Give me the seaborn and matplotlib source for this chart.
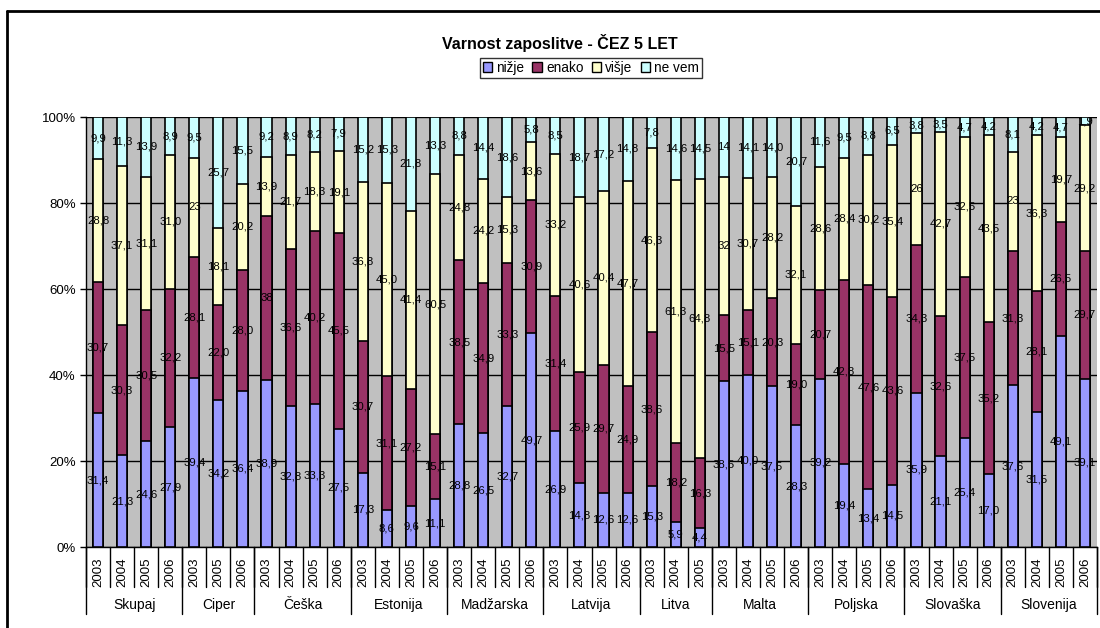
import pandas as pd
import seaborn as sns
import matplotlib.pyplot as plt
import matplotlib.patches as mpatches
import matplotlib.transforms as mtrans
from matplotlib.lines import Line2D

skupine = ["Skupaj", "Ciper", "Češka", "Estonija", "Madžarska", "Latvija",
           "Litva", "Malta", "Poljska", "Slovaška", "Slovenija"]
leta = [["2003", "2004", "2005", "2006"],
        ["2003", "2005", "2006"],
        ["2003", "2004", "2005", "2006"],
        ["2003", "2004", "2005", "2006"],
        ["2003", "2004", "2005", "2006"],
        ["2003", "2004", "2005", "2006"],
        ["2003", "2004", "2005"],
        ["2003", "2004", "2005", "2006"],
        ["2003", "2004", "2005", "2006"],
        ["2003", "2004", "2005", "2006"],
        ["2003", "2004", "2005", "2006"]]

nizje = ["31,4", "21,3", "24,6", "27,9",
         "39,4", "34,2", "36,4",
         "38,9", "32,8", "33,3", "27,5",
         "17,3", "8,6", "9,6", "11,1",
         "28,8", "26,5", "32,7", "49,7",
         "26,9", "14,8", "12,6", "12,6",
         "15,3", "5,9", "4,4",
         "38,5", "40,0", "37,5", "28,3",
         "39,2", "19,4", "13,4", "14,5",
         "35,9", "21,1", "25,4", "17,0",
         "37,6", "31,5", "49,1", "39,1"]
enako = ["30,7", "30,3", "30,5", "32,2",
         "28,1", "22,0", "28,0",
         "38", "36,6", "40,2", "45,5",
         "30,7", "31,1", "27,2", "15,1",
         "38,5", "34,9", "33,3", "30,9",
         "31,4", "25,9", "29,7", "24,9",
         "38,6", "18,2", "16,3",
         "15,5", "15,1", "20,3", "19,0",
         "20,7", "42,8", "47,6", "43,6",
         "34,3", "32,6", "37,5", "35,2",
         "31,3", "28,1", "26,5", "29,7"]
visje = ["28,8", "37,1", "31,1", "31,0",
         "23", "18,1", "20,2",
         "13,9", "21,7", "18,3", "19,1",
         "36,8", "45,0", "41,4", "60,5",
         "24,8", "24,2", "15,3", "13,6",
         "33,2", "40,6", "40,4", "47,7",
         "46,3", "61,3", "64,8",
         "32", "30,7", "28,2", "32,1",
         "28,6", "28,4", "30,2", "35,4",
         "26", "42,7", "32,5", "43,5",
         "23", "36,3", "19,7", "29,2"]
ne_vem = ["9,9", "11,3", "13,9", "8,9",
          "9,5", "25,7", "15,5",
          "9,2", "8,9", "8,2", "7,9",
          "15,2", "15,3", "21,8", "13,3",
          "8,8", "14,4", "18,6", "5,8",
          "8,5", "18,7", "17,2", "14,8",
          "7,8", "14,6", "14,5",
          "14", "14,1", "14,0", "20,7",
          "11,6", "9,5", "8,8", "6,5",
          "3,8", "3,5", "4,7", "4,2",
          "8,1", "4,2", "4,7", "1,9"]

serije = ["nižje", "enako", "višje", "ne vem"]
barve = ["#9999FF", "#993366", "#FFFFCC", "#CCFFFF"]
oznake = {"nižje": nizje, "enako": enako, "višje": visje, "ne vem": ne_vem}

rows = []
for g, ys in zip(skupine, leta):
    for y in ys:
        rows.append((g, y))
df = pd.DataFrame(rows, columns=["skupina", "leto"])
df["kljuc"] = df["skupina"] + " " + df["leto"]
for s in serije:
    df[s] = [float(v.replace(",", ".")) for v in oznake[s]]

# 100 % stacked: cumulative shares
tot = df[serije].sum(axis=1)
cum = df[serije].cumsum(axis=1).div(tot, axis=0) * 100
for s in serije:
    df["cum_" + s] = cum[s]

sns.set_style("white")
plt.rcParams['font.family'] = ['Liberation Sans', 'DejaVu Sans']
plt.rcParams['text.color'] = 'black'
plt.rcParams['ytick.color'] = 'black'
plt.rcParams['xtick.color'] = 'black'

W, H = 1100, 628
fig = plt.figure(figsize=(W / 100, H / 100), dpi=100)
ax = fig.add_axes([86 / W, (H - 547) / H, (1097 - 86) / W, 430 / H])
ax.set_facecolor("#C0C0C0")

order = list(df["kljuc"])
for s, c in reversed(list(zip(serije, barve))):
    sns.barplot(data=df, x="kljuc", y="cum_" + s, order=order, color=c,
                saturation=1, edgecolor="black", linewidth=1.2, width=0.42,
                ax=ax, zorder=3)

# data labels
for i in range(len(df)):
    prev = 0
    for s in serije:
        top = df.loc[i, "cum_" + s]
        ax.text(i, (prev + top) / 2, oznake[s][i], ha="center", va="center",
                fontsize=8.2, color="black", zorder=5)
        prev = top

ax.set_ylim(0, 100)
ax.set_xlim(-0.5, len(df) - 0.5)
ax.set_yticks(range(0, 101, 20))
ax.set_yticklabels([f"{v}%" for v in range(0, 101, 20)], fontsize=9.5)
ax.set_xticks([])
ax.set_xlabel("")
ax.set_ylabel("")
ax.set_axisbelow(True)
ax.yaxis.grid(True, color="black", linewidth=1, zorder=0)
ax.tick_params(axis="y", length=4, width=1, color="black", left=True)
for sp in ["top", "right"]:
    ax.spines[sp].set_visible(False)
for sp in ["left", "bottom"]:
    ax.spines[sp].set_color("black")
    ax.spines[sp].set_linewidth(1)

# two-level category axis
tr = mtrans.blended_transform_factory(ax.transData, ax.transAxes)
for i, y in enumerate(df["leto"]):
    ax.text(i, -0.058, y, rotation=90, ha="center", va="center",
            fontsize=9.5, transform=tr)
for i in range(len(df) + 1):
    ax.plot([i - 0.5, i - 0.5], [0, -0.093], color="black", lw=1,
            transform=tr, clip_on=False)
start = 0
for g, ys in zip(skupine, leta):
    end = start + len(ys)
    ax.plot([start - 0.5, start - 0.5], [0, -0.156], color="black", lw=1,
            transform=tr, clip_on=False)
    ax.text((start + end - 1) / 2, -0.135, g, ha="center", va="center",
            fontsize=10, transform=tr)
    start = end
ax.plot([start - 0.5, start - 0.5], [0, -0.156], color="black", lw=1,
        transform=tr, clip_on=False)

# title and legend
fig.text(560 / W, 1 - 43 / H, "Varnost zaposlitve - ČEZ 5 LET",
         ha="center", va="center", fontsize=11.5, fontweight="bold")
handles = [mpatches.Patch(facecolor=c, edgecolor="black", linewidth=1, label=s)
           for s, c in zip(serije, barve)]
leg = fig.legend(handles=handles, loc="center", ncol=4,
                 bbox_to_anchor=(591 / W, 1 - 68 / H), fontsize=9.8,
                 frameon=True, fancybox=False, edgecolor="black",
                 handlelength=0.7, handleheight=0.7, handletextpad=0.3,
                 columnspacing=0.6, borderpad=0.2, borderaxespad=0)
leg.get_frame().set_linewidth(1)

# outer chart frame
fig.add_artist(Line2D([7 / W, 7 / W], [0, 1 - 11 / H], color="black", lw=2,
                      transform=fig.transFigure))
fig.add_artist(Line2D([7 / W, 1], [1 - 11 / H, 1 - 11 / H], color="black",
                      lw=2, transform=fig.transFigure))

fig.savefig("out.png", dpi=100)
